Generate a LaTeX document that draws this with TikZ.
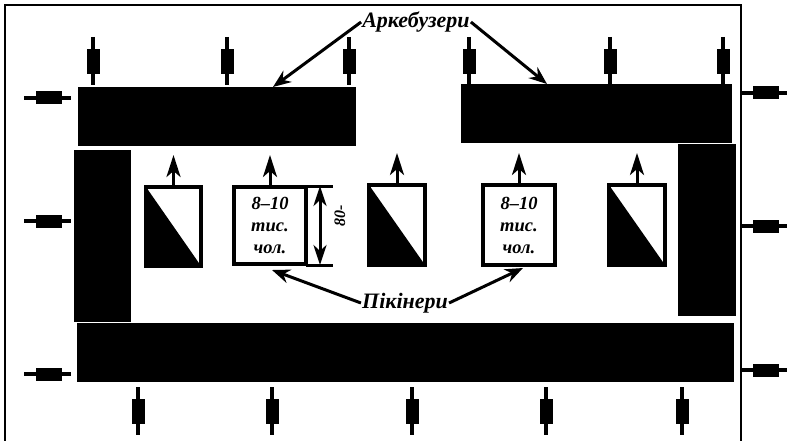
\documentclass[tikz,border=0pt]{standalone}
\usepackage{fontspec}
\setmainfont{Liberation Serif}
\usetikzlibrary{arrows.meta}
\def\vsold(#1,#2){\draw[line width=4pt] (#1,#2) -- (#1,#2+48); \fill (#1-6.5,#2+12) rectangle (#1+6.5,#2+37);}
\def\hsold(#1,#2){\draw[line width=4pt] (#1,#2) -- (#1+47,#2); \fill (#1+12,#2-6.5) rectangle (#1+38,#2+6.5);}

\begin{document}
\begin{tikzpicture}[x=1pt,y=-1pt,
	pbox/.style={draw, line width=4pt, inner sep=0pt, outer sep=0pt, font=\fontsize{18.5}{22}\selectfont\bfseries\itshape, align=center},
	lbl/.style={font=\fontsize{22}{24}\selectfont\bfseries\itshape, inner sep=1pt},
	pointer/.style={line width=3pt, -{Stealth[length=18pt,width=14pt,inset=6pt]}},
	march/.style={line width=3pt, -{Stealth[length=22pt,width=14pt,inset=6pt]}}]
			%%%%% START %%%%%
			
			\useasboundingbox (0,0) rectangle (787,441);
			
			\draw[line width=1.5pt] (5,441) -- (5,5) -- (741,5) -- (741,441);
			
			% arquebusiers
			\fill (78,87) rectangle (356,146);
			\fill (461,84) rectangle (732,143);
			\fill (74,150) rectangle (131,322);
			\fill (678,144) rectangle (736,316);
			\fill (77,323) rectangle (734,382);
			
			\foreach \x in {93,227,349,469,610,723} \vsold(\x,37);
			\foreach \x in {138,272,412,546,682} \vsold(\x,387);
			\foreach \y in {98,221,374} \hsold(24,\y);
			\foreach \y in {93,226,370} \hsold(741,\y);
			
			% pikemen
			\node[pbox, minimum width=55, minimum height=79] (b1) at (173.5,226.5) {};
			\node[pbox, minimum width=72, minimum height=77] (b2) at (270,225.5) {8--10\\тис.\\чол.};
			\node[pbox, minimum width=56, minimum height=80] (b3) at (397,225) {};
			\node[pbox, minimum width=72, minimum height=80] (b4) at (519,225) {8--10\\тис.\\чол.};
			\node[pbox, minimum width=56, minimum height=80] (b5) at (637,225) {};
			
			\foreach \b in {b1,b3,b5}
				\fill (\b.north west) -- (\b.south east) -- (\b.south west) -- cycle;
			\foreach \b in {b1,b2,b3,b4,b5}
				\draw[march] (\b.north) -- ++(0,-32);
			
			% depth
			\coordinate (dtop) at (320,186);
			\coordinate (dbot) at (320,265);
			\draw[line width=3pt] (306,186) -- (333,186);
			\draw[line width=3pt] (306,265) -- (333,265);
			\draw[line width=3pt, {Stealth[length=20pt,width=13pt,inset=6pt]}-{Stealth[length=20pt,width=13pt,inset=6pt]}] (dtop) -- (dbot);
			\node[font=\fontsize{16}{18}\selectfont\bfseries\itshape, rotate=90] (dep) at (340,216) {80-};
			
			% labels
			\node[lbl] (arq) at (416,22) {Аркебузери};
			\coordinate (arqL) at (273,87);
			\coordinate (arqR) at (547,84);
			\draw[pointer] (arq.west) -- (arqL);
			\draw[pointer] (arq.east) -- (arqR);
			
			\node[lbl] (pik) at (405,303) {Пікінери};
			\coordinate (pikL) at (272,270);
			\coordinate (pikR) at (523,268);
			\draw[pointer] (pik.west) -- (pikL);
			\draw[pointer] (pik.east) -- (pikR);
			
			%%%%% END %%%%%
\end{tikzpicture}
\end{document}
